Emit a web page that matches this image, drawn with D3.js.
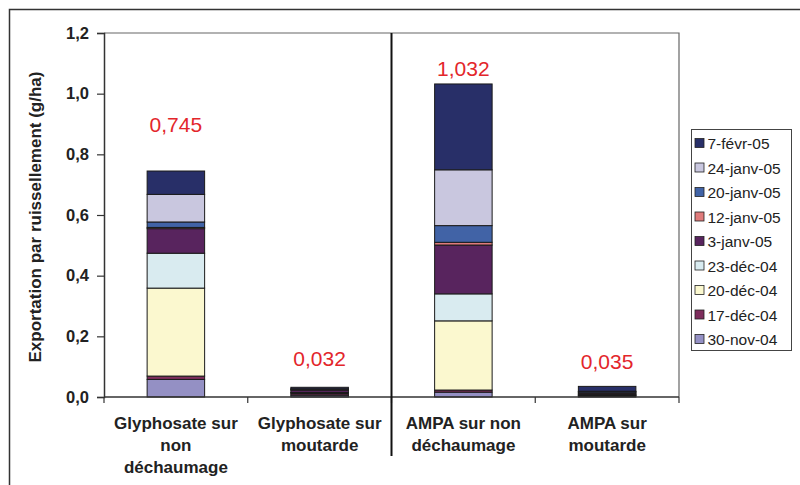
<!DOCTYPE html>
<html>
<head>
<meta charset="utf-8">
<script src="https://cdn.jsdelivr.net/npm/d3@7"></script>
<style>
    body { margin: 0; background: #fff; }
    svg { font-family: "Liberation Sans", Arial, sans-serif; }
</style>
</head>
<body>
<svg id="chart" width="800" height="485"></svg>
<script>
// categories (x axis), one line per array item
const categories = [
    ["Glyphosate sur", "non", "déchaumage"],
    ["Glyphosate sur", "moutarde"],
    ["AMPA sur non", "déchaumage"],
    ["AMPA sur", "moutarde"]
];

// series, stacking order bottom -> top
const dates = ["30-nov-04", "17-déc-04", "20-déc-04", "23-déc-04", "3-janv-05",
               "12-janv-05", "20-janv-05", "24-janv-05", "7-févr-05"];

// values (g/ha) for each category
const nov30  = [0.058, 0.006, 0.016, 0.003];
const dec17  = [0.011, 0.005, 0.007, 0.002];
const dec20  = [0.290, 0.003, 0.228, 0.002];
const dec23  = [0.115, 0.001, 0.089, 0.002];
const jan3   = [0.081, 0.008, 0.161, 0.004];
const jan12  = [0.004, 0.001, 0.009, 0.001];
const jan20  = [0.018, 0.002, 0.055, 0.004];
const jan24  = [0.091, 0.001, 0.184, 0.001];
const feb7   = [0.077, 0.005, 0.283, 0.016];

const yTicks = [0, 0.2, 0.4, 0.6, 0.8, 1.0, 1.2];

const seriesValues = [nov30, dec17, dec20, dec23, jan3, jan12, jan20, jan24, feb7];
const colors = ["#9490c4", "#7d2d5c", "#fbf8cf", "#d9ebf0", "#58245e",
                "#df7b7b", "#4163a6", "#c9c7df", "#282f68"];
// vertical offset of the red total labels above each bar (layout only)
const labelDy = [-39, -21, -8, -17];

let svg = d3.select("#chart");
let plotLeft = 104, plotRight = 679, plotTop = 33, plotBottom = 397;

let fr = d3.formatLocale({ decimal: ",", thousands: " ", grouping: [3], currency: ["", ""] });

// outer frame
svg.append("rect")
    .attr("x", 9.5).attr("y", 9.5)
    .attr("width", 820).attr("height", 500)
    .attr("fill", "none").attr("stroke", "#333").attr("stroke-width", 1.5);

let x = d3.scaleBand()
    .domain(d3.range(categories.length))
    .range([plotLeft, plotRight])
    .paddingInner(0.6)
    .paddingOuter(0.3);

let y = d3.scaleLinear()
    .domain([0, 1.2])
    .range([plotBottom, plotTop]);

// plot area border
svg.append("path")
    .attr("d", `M${plotLeft},${plotTop}H${plotRight}V${plotBottom}`)
    .attr("fill", "none").attr("stroke", "#666").attr("stroke-width", 1.2);

// stacked data
let rows = categories.map(function (c, i) {
    let r = { i: i };
    dates.forEach(function (d, k) { r[d] = seriesValues[k][i]; });
    return r;
});
let stack = d3.stack().keys(dates)(rows);

svg.append("g")
    .selectAll("g")
    .data(stack)
    .join("g")
    .attr("fill", function (s, k) { return colors[k]; })
    .selectAll("rect")
    .data(function (s) { return s; })
    .join("rect")
    .attr("x", function (d) { return x(d.data.i); })
    .attr("width", x.bandwidth())
    .attr("y", function (d) { return y(d[1]); })
    .attr("height", function (d) { return y(d[0]) - y(d[1]); })
    .attr("stroke", "#1a1a1a")
    .attr("stroke-width", 1);

// Y axis
let yAxis = svg.append("g")
    .attr("transform", `translate(${plotLeft},0)`)
    .call(d3.axisLeft(y).tickValues(yTicks).tickSize(7).tickPadding(8)
        .tickFormat(fr.format(".1f")));
yAxis.select(".domain").attr("stroke", "#333").attr("stroke-width", 1.5);
yAxis.selectAll(".tick line").attr("stroke", "#333").attr("stroke-width", 1.2);
yAxis.selectAll(".tick text")
    .attr("font-size", 16.5).attr("font-weight", "bold").attr("fill", "#222")
    .attr("font-family", "Liberation Sans, Arial, sans-serif");

// X axis line and category boundary ticks
svg.append("line")
    .attr("x1", plotLeft).attr("x2", plotRight)
    .attr("y1", plotBottom).attr("y2", plotBottom)
    .attr("stroke", "#333").attr("stroke-width", 1.5);

svg.append("g")
    .selectAll("line")
    .data(d3.range(categories.length + 1))
    .join("line")
    .attr("x1", function (i) { return plotLeft + i * x.step(); })
    .attr("x2", function (i) { return plotLeft + i * x.step(); })
    .attr("y1", plotBottom).attr("y2", plotBottom + 6)
    .attr("stroke", "#333").attr("stroke-width", 1.2);

// separator between glyphosate and AMPA
svg.append("line")
    .attr("x1", plotLeft + 2 * x.step()).attr("x2", plotLeft + 2 * x.step())
    .attr("y1", plotTop).attr("y2", 456)
    .attr("stroke", "#111").attr("stroke-width", 2);

// category labels
svg.append("g")
    .selectAll("text")
    .data(categories)
    .join("text")
    .attr("x", function (c, i) { return x(i) + x.bandwidth() / 2; })
    .attr("y", 429)
    .attr("text-anchor", "middle")
    .attr("font-size", 17).attr("font-weight", "bold").attr("fill", "#222")
    .selectAll("tspan")
    .data(function (c) { return c; })
    .join("tspan")
    .attr("x", function () { return this.parentNode.getAttribute("x"); })
    .attr("dy", function (t, j) { return j === 0 ? 0 : 22; })
    .text(function (t) { return t; });

// total labels
svg.append("g")
    .selectAll("text")
    .data(rows)
    .join("text")
    .attr("x", function (d) { return x(d.i) + x.bandwidth() / 2; })
    .attr("y", function (d) {
        return y(d3.sum(seriesValues, function (s) { return s[d.i]; })) + labelDy[d.i];
    })
    .attr("text-anchor", "middle")
    .attr("font-size", 21).attr("fill", "#e3262b")
    .text(function (d) {
        return fr.format(".3f")(d3.sum(seriesValues, function (s) { return s[d.i]; }));
    });

// Y axis title
svg.append("text")
    .attr("transform", `translate(41,${(plotTop + plotBottom) / 2 + 2}) rotate(-90)`)
    .attr("text-anchor", "middle")
    .attr("font-size", 17).attr("font-weight", "bold").attr("fill", "#222")
    .text("Exportation par ruissellement (g/ha)");

// legend (top entry = last series)
let legend = svg.append("g");
legend.append("rect")
    .attr("x", 691.5).attr("y", 129.5)
    .attr("width", 100).attr("height", 221)
    .attr("fill", "#fff").attr("stroke", "#444").attr("stroke-width", 1);

let items = legend.selectAll("g")
    .data(dates.slice().reverse())
    .join("g")
    .attr("transform", function (d, i) { return `translate(695,${143 + i * 24.5})`; });

items.append("rect")
    .attr("x", 0).attr("y", -4.5)
    .attr("width", 9).attr("height", 9)
    .attr("fill", function (d) { return colors[dates.indexOf(d)]; })
    .attr("stroke", "#222").attr("stroke-width", 0.8);

items.append("text")
    .attr("x", 12.5).attr("y", 6)
    .attr("font-size", 15.5).attr("fill", "#222")
    .text(function (d) { return d; });
</script>
</body>
</html>
